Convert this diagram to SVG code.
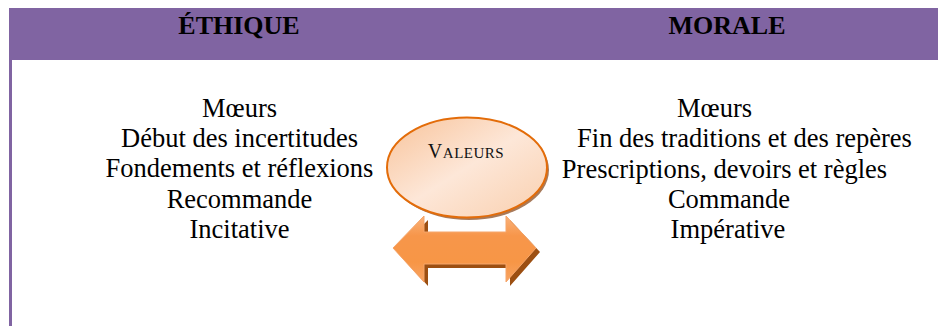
<svg xmlns="http://www.w3.org/2000/svg" width="938" height="326" viewBox="0 0 938 326">
<style>
.hd{font-family:"Liberation Serif","Times New Roman",serif;font-weight:bold;font-size:26px;fill:#000;text-anchor:middle}
.tx{font-family:"Liberation Serif","Times New Roman",serif;font-size:26.5px;fill:#000;text-anchor:middle}
.sc{font-family:"Liberation Serif","Times New Roman",serif;fill:#111}
</style>
<defs>
<linearGradient id="ellG" x1="0" y1="0" x2="1" y2="1">
<stop offset="0" stop-color="#f8c39a"/>
<stop offset="0.5" stop-color="#fde7d8"/>
<stop offset="1" stop-color="#f9cfae"/>
</linearGradient>
<linearGradient id="arrG" x1="0" y1="0" x2="0" y2="1">
<stop offset="0" stop-color="#fab27a"/>
<stop offset="0.3" stop-color="#f7964a"/>
<stop offset="0.7" stop-color="#f79646"/>
<stop offset="1" stop-color="#f8a463"/>
</linearGradient>
</defs>
<rect x="0" y="0" width="938" height="326" fill="#fff"/>
<g id="frame">
<rect x="9" y="8" width="929" height="52" fill="#8064a2"/>
<rect x="9" y="60" width="3" height="266" fill="#8064a2"/>
</g>
<g id="header-ethique"><text class="hd" x="239" y="34">ÉTHIQUE</text></g>
<g id="header-morale"><text class="hd" x="727" y="34">MORALE</text></g>
<g id="ethique-list">
<text class="tx" x="239.5" y="117">Mœurs</text>
<text class="tx" x="239.5" y="147">Début des incertitudes</text>
<text class="tx" x="239.5" y="177">Fondements et réflexions</text>
<text class="tx" x="239.5" y="208">Recommande</text>
<text class="tx" x="239.5" y="238">Incitative</text>
</g>
<g id="morale-list">
<text class="tx" x="714.5" y="117">Mœurs</text>
<text class="tx" x="744.5" y="147">Fin des traditions et des repères</text>
<text class="tx" x="724.5" y="178">Prescriptions, devoirs et règles</text>
<text class="tx" x="729" y="208">Commande</text>
<text class="tx" x="728" y="238">Impérative</text>
</g>
<g id="connectors">
<polygon points="397,252 428,220 428,236 510,236 510,220 540,252 510,286 510,268 428,268 428,286" fill="#9c4f12"/>
<polygon points="393,248 424,216 424,232 506,232 506,216 536,248 506,282 506,264 424,264 424,282" fill="url(#arrG)" stroke="#f5a56a" stroke-width="1"/>
</g>
<g id="valeurs">
<ellipse cx="469" cy="170" rx="80" ry="50" fill="#a87a5a"/>
<ellipse cx="467" cy="167.5" rx="80" ry="50" fill="url(#ellG)" stroke="#e36c09" stroke-width="2"/>
<text class="sc" x="466" y="158" text-anchor="middle" letter-spacing="0.5"><tspan font-size="20">V</tspan><tspan font-size="15">ALEURS</tspan></text>
</g>
</svg>
